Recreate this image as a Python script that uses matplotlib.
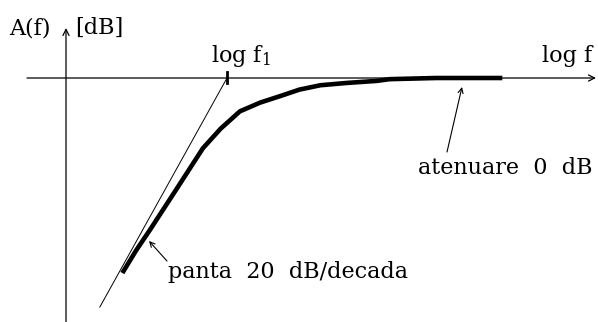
import numpy as np
import matplotlib
matplotlib.use("Agg")
import matplotlib.pyplot as plt

# Frequency response of a first-order high-pass section (Bode magnitude sketch)
log_f = [0.35, 0.435, 0.52, 0.69, 0.85, 0.96, 1.08, 1.205, 1.33, 1.45, 1.58,
         1.745, 1.93, 2.01, 2.3, 2.71]
gain_db = [-13.45, -11.9, -10.5, -7.6, -4.85, -3.5, -2.3, -1.7, -1.25, -0.8,
           -0.5, -0.34, -0.2, -0.08, 0.0, 0.0]

log_f1 = 1.0          # corner frequency (decades)
slope_db = 20.0       # asymptote slope, dB per decade
asym_start = 0.21     # left end of the drawn asymptote

# drawing scale: pixels per decade / per dB, origin position in pixels
PX, PY = 161.0, 14.5
X0, Y0 = 66.0, 78.0
W, H = 598, 322


def to_data(x, y):
    return ((x - X0) / PX, -(y - Y0) / PY)


fig = plt.figure(figsize=(W / 100, H / 100), dpi=100)
ax = fig.add_axes([0, 0, 1, 1])
ax.set_xlim(-X0 / PX, (W - X0) / PX)
ax.set_ylim(-(H - Y0) / PY, Y0 / PY)
ax.axis("off")

serif = ["DejaVu Serif"]
fs = 16

# coordinate axes with arrow heads
axis_arrow = dict(arrowstyle="->", lw=0.9, color="black", shrinkA=0, shrinkB=0,
                  mutation_scale=11)
ax.annotate("", xy=to_data(596, Y0), xytext=to_data(27, Y0), arrowprops=axis_arrow)
ax.annotate("", xy=to_data(X0, 28), xytext=to_data(X0, H + 2), arrowprops=axis_arrow)

# tick at the corner frequency
ax.plot([log_f1, log_f1], [to_data(0, 72)[1], to_data(0, 83)[1]], color="black", lw=2.0)

# 20 dB/decade asymptote
xa = np.array([asym_start, log_f1])
ax.plot(xa, slope_db * (xa - log_f1), color="black", lw=0.7)

# actual response
ax.plot(log_f, gain_db, color="black", lw=3.3, solid_capstyle="butt", solid_joinstyle="round")

# labels
ax.text(*to_data(9, 34), "A(f)", family=serif, fontsize=fs, ha="left", va="baseline")
ax.text(*to_data(75, 34), "[dB]", family=serif, fontsize=fs, ha="left", va="baseline")
ax.text(*to_data(211, 62), r"log f$_\mathregular{1}$", family=serif, fontsize=fs,
        ha="left", va="baseline")
ax.text(*to_data(542, 62), "log f", family=serif, fontsize=fs, ha="left", va="baseline")
ax.text(*to_data(418, 174), "atenuare  0  dB", family=serif, fontsize=fs,
        ha="left", va="baseline")
ax.text(*to_data(168, 278), "panta  20  dB/decada", family=serif, fontsize=fs,
        ha="left", va="baseline")

thin_arrow = dict(arrowstyle="->", lw=0.8, color="black", shrinkA=0, shrinkB=0,
                  mutation_scale=9)
ax.annotate("", xy=to_data(462, 87), xytext=to_data(447, 152), arrowprops=thin_arrow)
ax.annotate("", xy=to_data(149, 241), xytext=to_data(167, 261), arrowprops=thin_arrow)

fig.savefig("out.png", dpi=100, facecolor="white")
